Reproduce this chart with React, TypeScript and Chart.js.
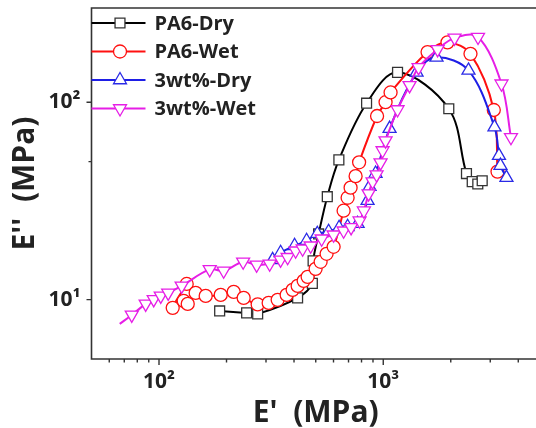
import React, { useEffect, useRef } from 'react';
import { Chart, registerables } from 'chart.js';

Chart.register(...registerables);

// ---- data (E' in MPa, E'' in MPa) ----
const seriesNames = ['PA6-Dry', 'PA6-Wet', '3wt%-Dry', '3wt%-Wet'];

const pa6DryX = [186.4, 245.9, 275.4, 415, 482.8, 486.6, 514.9, 562.9, 634, 842.6, 1158, 1960, 2350, 2493, 2640, 2762];
const pa6DryY = [8.76, 8.56, 8.46, 10.2, 12.08, 15.7, 21.5, 33.2, 51.0, 98.8, 141.6, 92.6, 43.5, 39.6, 38.5, 40.0];

const pa6WetX = [132.9, 115.1, 128.8, 134.3, 145.7, 161.5, 188.4, 215.3, 238.5, 275.4, 308.3, 338.1, 370.9, 394.4, 415.2, 441.6, 459.9, 499.3, 525.6, 558.9, 600.7, 665.6, 693.5, 715.1, 752.8, 780.3, 938.5, 1024, 1078, 1576, 1934, 2449, 3111, 3232];
const pa6WetY = [12.0, 9.08, 9.85, 9.51, 10.81, 10.44, 10.56, 10.94, 10.2, 9.45, 9.62, 9.97, 10.56, 11.2, 11.73, 12.44, 13.04, 14.31, 15.54, 17.06, 18.51, 28.2, 32.8, 36.9, 42.2, 49.6, 85.1, 100, 112, 179.4, 200.9, 175.7, 91.3, 44.5];

const dry3X = [321.1, 348.6, 402.3, 455.1, 508.1, 570.6, 635.4, 693.5, 768.5, 851.3, 869, 924.1, 1067, 1408, 1728, 2399, 3133, 3281, 3332, 3543];
const dry3Y = [15.9, 17.26, 18.74, 19.86, 21.56, 22.07, 23.12, 23.39, 24.23, 31.7, 37.3, 43.5, 73.5, 141.5, 168.7, 144.8, 74.8, 53.6, 47.7, 41.5];

const wet3X = [66.8, 75.6, 87.2, 94.7, 101.8, 109.9, 126.2, 168.3, 194.2, 237.2, 272.6, 311.5, 348.6, 374.6, 406.6, 437.0, 474.5, 531.1, 600.7, 665.6, 718.8, 784.3, 819.7, 860.1, 896.2, 933.8, 972.7, 992.9, 1024, 1158, 1310, 1437, 1747, 2079, 2646, 3367, 3711];
const wet3Y = [7.53, 8.36, 9.51, 10.02, 10.44, 10.81, 11.73, 14.23, 13.99, 15.54, 15.0, 15.18, 15.9, 16.38, 17.67, 18.09, 18.74, 20.33, 21.3, 22.32, 23.2, 25.09, 28.2, 34.4, 39.6, 43.0, 49.4, 56.9, 63.9, 91.8, 121.6, 150.0, 185.1, 211.8, 213.8, 124.0, 66.4];

// ---- axes ----
const xMin = 50;
const xMax = 5000;
const yMin = 5;
const yMax = 300;
const xMajorTicks = [100, 1000];
const xTickLabels = ['10²', '10³'];
const xMinorTicks = [60, 70, 80, 90, 200, 300, 400, 500, 600, 700, 800, 900, 2000, 3000, 4000];
const yMajorTicks = [10, 100];
const yTickLabels = ['10¹', '10²'];
const yMinorTicks = [50];

const lineColors = ['#000000', '#ff1010', '#1e1ee6', '#e61ee6'];
const markerColors = ['#333333', '#ff1010', '#2a2ae6', '#e61ee6'];
const markerStyles = ['rect', 'circle', 'triangle', 'triangle'];
const markerRotations = [0, 0, 0, 180];
const markerRadii = [7, 6.5, 7.5, 7.5];

const FONT = '"Open Sans", "DejaVu Sans", sans-serif';
const TEXT = '#222222';
const AXIS = '#333333';

function drawMarker(ctx: CanvasRenderingContext2D, style: string, rot: number, r: number, x: number, y: number) {
  ctx.beginPath();
  if (style === 'rect') {
    const s = Math.SQRT1_2 * r;
    ctx.rect(x - s, y - s, 2 * s, 2 * s);
  } else if (style === 'circle') {
    ctx.arc(x, y, r, 0, Math.PI * 2);
  } else {
    let rad = (rot * Math.PI) / 180;
    ctx.moveTo(x + Math.sin(rad) * r, y - Math.cos(rad) * r);
    rad += (2 * Math.PI) / 3;
    ctx.lineTo(x + Math.sin(rad) * r, y - Math.cos(rad) * r);
    rad += (2 * Math.PI) / 3;
    ctx.lineTo(x + Math.sin(rad) * r, y - Math.cos(rad) * r);
    ctx.closePath();
  }
  ctx.fill();
  ctx.stroke();
}

const framePlugin = {
  id: 'frame',
  afterDraw(chart: any) {
    const { ctx, chartArea: a, scales } = chart;
    ctx.save();
    ctx.strokeStyle = AXIS;
    ctx.lineWidth = 1.6;
    ctx.beginPath();
    ctx.moveTo(a.left, a.top);
    ctx.lineTo(a.right, a.top);
    ctx.lineTo(a.right, a.bottom);
    ctx.lineTo(a.left, a.bottom);
    ctx.closePath();
    ctx.stroke();
    ctx.lineWidth = 1.4;
    ctx.beginPath();
    xMajorTicks.forEach((v) => {
      const px = scales.x.getPixelForValue(v);
      ctx.moveTo(px, a.bottom);
      ctx.lineTo(px, a.bottom + 6);
    });
    xMinorTicks.forEach((v) => {
      const px = scales.x.getPixelForValue(v);
      ctx.moveTo(px, a.bottom);
      ctx.lineTo(px, a.bottom + 3.5);
    });
    yMajorTicks.forEach((v) => {
      const py = scales.y.getPixelForValue(v);
      ctx.moveTo(a.left, py);
      ctx.lineTo(a.left - 5, py);
    });
    yMinorTicks.forEach((v) => {
      const py = scales.y.getPixelForValue(v);
      ctx.moveTo(a.left, py);
      ctx.lineTo(a.left - 3, py);
    });
    ctx.stroke();
    ctx.restore();
  },
};

const legendPlugin = {
  id: 'lineLegend',
  afterDraw(chart: any) {
    const { ctx, chartArea: a } = chart;
    ctx.save();
    seriesNames.forEach((name, i) => {
      const y = a.top + 15 + i * 28.5;
      ctx.strokeStyle = lineColors[i];
      ctx.lineWidth = 2;
      ctx.beginPath();
      ctx.moveTo(a.left, y);
      ctx.lineTo(a.left + 54, y);
      ctx.stroke();
      ctx.fillStyle = '#ffffff';
      ctx.strokeStyle = markerColors[i];
      ctx.lineWidth = 1.3;
      drawMarker(ctx, markerStyles[i], markerRotations[i], markerRadii[i], a.left + 28.5, y);
      ctx.fillStyle = TEXT;
      ctx.font = `bold 20px ${FONT}`;
      ctx.textBaseline = 'middle';
      ctx.textAlign = 'left';
      ctx.fillText(name, a.left + 63, y + 1);
    });
    ctx.restore();
  },
};

function pts(xs: number[], ys: number[]) {
  return xs.map((x, i) => ({ x, y: ys[i] }));
}

export default function App() {
  const ref = useRef<HTMLCanvasElement>(null);
  useEffect(() => {
    const canvas = ref.current;
    if (!canvas) return;
    const sets = [
      pts(pa6DryX, pa6DryY),
      pts(pa6WetX, pa6WetY),
      pts(dry3X, dry3Y),
      pts(wet3X, wet3Y),
    ];
    const datasets = sets.map((data, i) => ({
      label: seriesNames[i],
      data,
      borderColor: lineColors[i],
      borderWidth: 2,
      backgroundColor: '#ffffff',
      pointStyle: markerStyles[i],
      pointRotation: markerRotations[i],
      pointRadius: i === 3 ? (c: any) => (c.dataIndex === 0 ? 0 : markerRadii[i]) : markerRadii[i],
      pointBorderColor: markerColors[i],
      pointBackgroundColor: '#ffffff',
      pointBorderWidth: 1.3,
      tension: 0.35,
      fill: false,
      order: 3 - i,
    }));
    const chart = new Chart(canvas, {
      type: 'line',
      data: { datasets } as any,
      options: {
        responsive: false,
        animation: false,
        events: [],
        layout: { autoPadding: false, padding: { top: 8, left: 0, right: 0, bottom: 0 } },
        plugins: { legend: { display: false }, tooltip: { enabled: false } },
        scales: {
          x: {
            type: 'logarithmic',
            position: 'bottom',
            min: xMin,
            max: xMax,
            afterBuildTicks: (s: any) => {
              s.ticks = xMajorTicks.map((v) => ({ value: v }));
            },
            afterFit: (s: any) => {
              s.height = 69;
              s.paddingLeft = 0;
              s.paddingRight = 0;
              s.paddingTop = 0;
              s.paddingBottom = 0;
            },
            grid: { display: false, drawTicks: false },
            border: { display: false },
            ticks: {
              autoSkip: false,
              maxRotation: 0,
              padding: 10,
              color: TEXT,
              font: { family: FONT, size: 21, weight: 'bold' },
              callback: (v: any) => {
                const k = xMajorTicks.indexOf(Number(v));
                return k >= 0 ? xTickLabels[k] : '';
              },
            },
            title: {
              display: true,
              text: "E'  (MPa)",
              color: TEXT,
              font: { family: FONT, size: 30, weight: 'bold', lineHeight: 1 },
              padding: { top: 0, bottom: 0 },
            },
          },
          y: {
            type: 'logarithmic',
            position: 'left',
            min: yMin,
            max: yMax,
            afterBuildTicks: (s: any) => {
              s.ticks = yMajorTicks.map((v) => ({ value: v }));
            },
            afterFit: (s: any) => {
              s.width = 91.5;
              s.paddingLeft = 0;
              s.paddingRight = 0;
              s.paddingTop = 0;
              s.paddingBottom = 0;
            },
            grid: { display: false, drawTicks: false },
            border: { display: false },
            ticks: {
              autoSkip: false,
              padding: 11,
              color: TEXT,
              font: { family: FONT, size: 21, weight: 'bold' },
              callback: (v: any) => {
                const k = yMajorTicks.indexOf(Number(v));
                return k >= 0 ? yTickLabels[k] : '';
              },
            },
            title: {
              display: true,
              text: "E''  (MPa)",
              color: TEXT,
              font: { family: FONT, size: 30, weight: 'bold', lineHeight: 1 },
              padding: { top: 10, bottom: 0 },
            },
          },
        },
      } as any,
      plugins: [framePlugin, legendPlugin],
    });
    return () => chart.destroy();
  }, []);

  return (
    <div
      style={{
        position: 'fixed',
        left: 0,
        top: 0,
        width: 536,
        height: 428,
        overflow: 'hidden',
        background: '#ffffff',
      }}
    >
      <canvas ref={ref} width={540} height={428} style={{ display: 'block', width: 540, height: 428 }} />
    </div>
  );
}
